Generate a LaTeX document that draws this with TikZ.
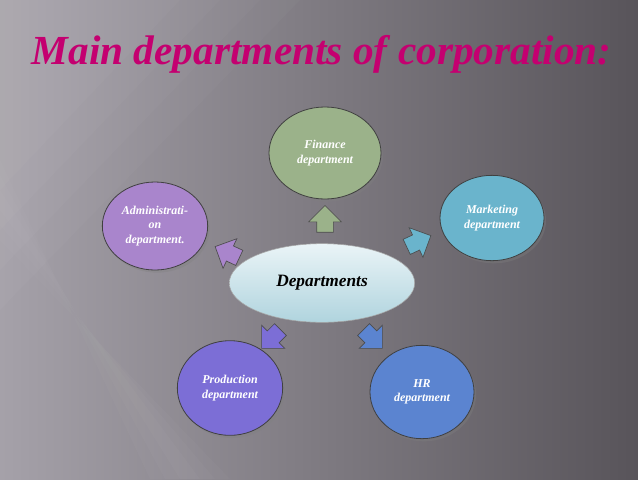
\documentclass[tikz,border=0pt]{standalone}
\usepackage{fontspec}
\setmainfont{Liberation Serif}
\usetikzlibrary{shapes.geometric,shapes.arrows,shadows}
\definecolor{titlemag}{RGB}{196,0,112}
\definecolor{bgleft}{RGB}{165,161,169}
\definecolor{bgright}{RGB}{88,84,90}
\definecolor{finc}{RGB}{155,178,138}
\definecolor{admc}{RGB}{169,133,204}
\definecolor{mktc}{RGB}{106,180,204}
\definecolor{prodc}{RGB}{124,110,214}
\definecolor{hrc}{RGB}{91,132,208}
\definecolor{deplight}{RGB}{234,244,247}
\definecolor{depdark}{RGB}{176,212,222}

\begin{document}
\begin{tikzpicture}[x=0.75pt,y=-0.75pt,
  dept/.style={ellipse,draw=black!75,line width=0.6pt,text=white,align=center,
    font=\bfseries\itshape\fontsize{9}{11}\selectfont,inner sep=0pt,
    drop shadow={opacity=0.35,shadow xshift=1.5pt,shadow yshift=-2pt}},
  blockarr/.style={single arrow,draw=black!70,line width=0.5pt,inner sep=6pt,
    minimum height=20pt,single arrow head extend=6pt,single arrow head indent=0pt}]
  % Background
  \useasboundingbox (0,0) rectangle (638,479);
  \shade[left color=bgleft,right color=bgright] (0,0) rectangle (638,479);
  % soft light streaks
  \foreach \w in {40,80,120,160}
    \fill[white,opacity=0.025] (0,0) -- (140+\w,0) -- (0,150+\w) -- cycle;
  \foreach \w in {10,25,40}
    \fill[white,opacity=0.02] (0,200-\w) -- (0,200+\w) -- (190+\w,479) -- (190-\w,479) -- cycle;

  % Title
  \node[anchor=base west,text=titlemag,
    font=\bfseries\itshape\fontsize{31}{36}\selectfont] (title) at (27,64)
    {Main departments of corporation:};

  % Centre
  \node[ellipse,draw=black!35,top color=deplight,bottom color=depdark,
    minimum width=139pt,minimum height=59pt,
    font=\bfseries\itshape\fontsize{13}{15}\selectfont] (dep) at (322,283) {Departments};

  % Departments round the centre
  \node[dept,fill=finc,minimum width=84pt,minimum height=69pt] (fin) at (325,153) {Finance\\department};
  \node[dept,fill=admc,minimum width=79pt,minimum height=66pt] (adm) at (155,226) {Administrati-\\on\\department.};
  \node[dept,fill=mktc,minimum width=78pt,minimum height=64pt] (mkt) at (492,218) {Marketing\\department};
  \node[dept,fill=prodc,minimum width=79pt,minimum height=71pt] (prod) at (230,388) {Production\\department};
  \node[dept,fill=hrc,minimum width=78pt,minimum height=70pt] (hr) at (422,392) {HR\\department};

  % Block arrows
  \node[blockarr,fill=finc,rotate=90] (afin) at (325,223) {};
  \node[blockarr,fill=admc,rotate=155] (aadm) at (231,254) {};
  \node[blockarr,fill=mktc,rotate=25] (amkt) at (415,243) {};
  \node[blockarr,fill=prodc,rotate=225] (aprod) at (274,336) {};
  \node[blockarr,fill=hrc,rotate=-45] (ahr) at (370,336) {};
\end{tikzpicture}
\end{document}
